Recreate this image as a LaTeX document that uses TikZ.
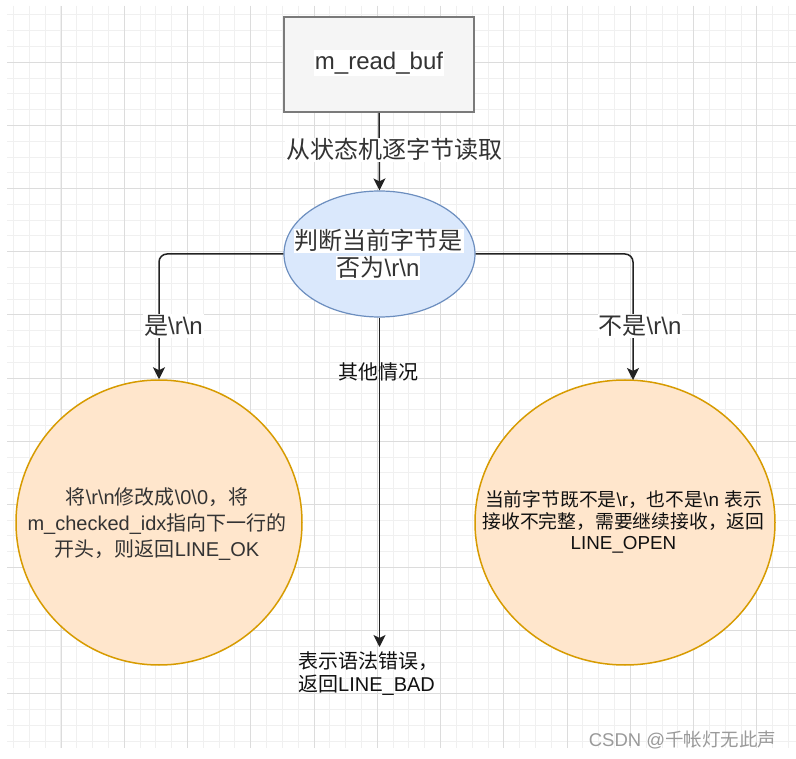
\documentclass[tikz,border=0pt]{standalone}
\usepackage{fontspec}
\setmainfont{Liberation Sans}
\newfontfamily\cjk{Noto Sans CJK SC}
\usetikzlibrary{arrows.meta,shapes.geometric}

\definecolor{gridmajor}{HTML}{DCDCDC}
\definecolor{gridminor}{HTML}{F0F0F0}
\definecolor{linec}{HTML}{222222}
\definecolor{txtgray}{HTML}{333333}
\definecolor{txtdark}{HTML}{111111}
\definecolor{bufdraw}{HTML}{7A7A7A}
\definecolor{buffill}{HTML}{F5F5F5}
\definecolor{bluedraw}{HTML}{6C8EBF}
\definecolor{bluefill}{HTML}{DAE8FC}
\definecolor{orangedraw}{HTML}{D79B00}
\definecolor{orangefill}{HTML}{FFE6CC}
\definecolor{markgray}{HTML}{9A9A9A}

\newcommand{\bksl}{\textbackslash}

\begin{document}
\begin{tikzpicture}[x=1pt,y=-1pt,
  conn/.style={draw=linec, line width=1.5pt, rounded corners=8pt,
    -{Stealth[length=12pt,width=12pt,inset=3pt]}},
  bufbox/.style={rectangle, draw=bufdraw, fill=buffill, line width=1.6pt,
    minimum width=190pt, minimum height=95pt, inner sep=0pt},
  judgebox/.style={ellipse, draw=bluedraw, fill=bluefill, line width=1.2pt,
    minimum width=191pt, minimum height=126pt, inner sep=0pt},
  resultbox/.style={ellipse, draw=orangedraw, fill=orangefill, line width=1.5pt,
    inner sep=0pt},
  biglbl/.style={fill=white, inner xsep=1pt, inner ysep=0pt, text=txtgray,
    font=\fontsize{24}{27}\selectfont, text height=20.5pt, text depth=3.5pt},
  smalltxt/.style={inner sep=0pt, font=\fontsize{20}{26}\selectfont}
]
% page and grid paper
\fill[white] (0,0) rectangle (796,759);
\useasboundingbox (0,0) rectangle (796,759);
\begin{scope}
  \clip (7,6) rectangle (796,748);
  \foreach \i in {0,...,49}
    \draw[gridminor, line width=1pt] ({13.5+15.818*\i},6) -- ({13.5+15.818*\i},748);
  \foreach \j in {0,...,46}
    \draw[gridminor, line width=1pt] (7,{14.9+15.79*\j}) -- (796,{14.9+15.79*\j});
  \foreach \m in {0,...,11}
    \draw[gridmajor, line width=1pt] ({61+63.27*\m},6) -- ({61+63.27*\m},748);
  \foreach \m in {0,...,10}
    \draw[gridmajor, line width=1pt] (7,{62.3+63.16*\m}) -- (796,{62.3+63.16*\m});
\end{scope}

% shapes
\node[bufbox] (buf) at (379,64.5) {};
\node[judgebox] (judge) at (379.5,254) {};
\node[resultbox, minimum width=286pt, minimum height=285pt] (lineok) at (159,522.5) {};
\node[resultbox, minimum width=300pt, minimum height=285pt] (lineopen) at (625,522.5) {};
\coordinate (opentop) at (633,380);
\coordinate (badtop) at (379.5,647);

% connectors
\draw[conn] (buf.south) -- (judge.north);
\draw[conn] (judge.west) -| (lineok.north);
\draw[conn] (judge.east) -| (opentop);
\draw[conn] (judge.south) -- (badtop);

% texts
\node[fill=white, inner xsep=1pt, inner ysep=0pt, text=txtgray,
  font=\fontsize{24}{27}\selectfont, text height=19.5pt, text depth=6.5pt]
  (buftext) at (379,63.5) {m\_read\_buf};
\node[biglbl] (readlbl) at (394,150.5) {\cjk 从状态机逐字节读取};
\node[biglbl] (judge1) at (378.5,241.5) {\cjk 判断当前字节是};
\node[biglbl] (judge2) at (378,268) {{\cjk 否为}\bksl r\bksl n};
\node[biglbl] (yeslbl) at (173.5,326) {{\cjk 是}\bksl r\bksl n};
\node[biglbl] (nolbl) at (640,326) {{\cjk 不是}\bksl r\bksl n};
\node[smalltxt, text=txtdark, text height=17pt, text depth=3pt] (other) at (378,373) {\cjk 其他情况};

\node[smalltxt, text=txtgray, align=center] (oktext) at (157,524.5)
  {{\cjk 将}\bksl r\bksl n{\cjk 修改成}\bksl 0\bksl 0{\cjk ，将}\\
   m\_checked\_idx{\cjk 指向下一行的}\\
   {\cjk 开头，则返回}LINE\_OK};

\node[inner sep=0pt, text=txtdark, align=center, font=\fontsize{18.8}{21.5}\selectfont]
  (opentext) at (623.5,522)
  {{\cjk 当前字节既不是}\bksl r{\cjk ，也不是}\bksl n {\cjk 表示}\\
   {\cjk 接收不完整，需要继续接收，返回}\\
   LINE\_OPEN};

\node[inner sep=0pt, text=txtdark, align=left, anchor=west,
  font=\fontsize{20}{23}\selectfont] (badtext) at (298,673.5)
  {{\cjk 表示语法错误，}\\{\cjk 返回}LINE\_BAD};

\node[inner sep=0pt, text=markgray, font=\fontsize{18.5}{20}\selectfont]
  (mark) at (682.5,740) {CSDN @{\cjk 千帐灯无此声}};
\end{tikzpicture}
\end{document}
